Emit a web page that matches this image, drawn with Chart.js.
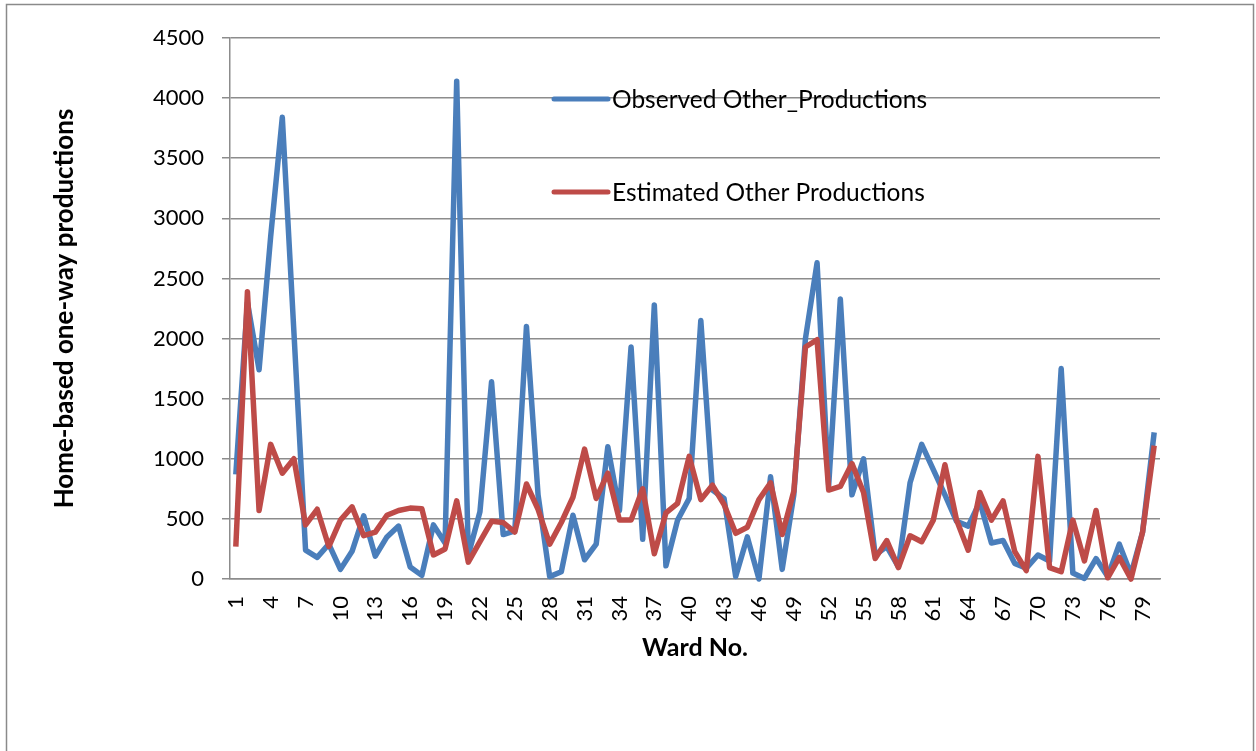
<!DOCTYPE html>
<html>
<head>
<meta charset="utf-8">
<script src="https://cdn.jsdelivr.net/npm/chart.js@4/dist/chart.umd.min.js"></script>
<style>
  html, body { margin: 0; padding: 0; background: #fff; }
  #wrap { width: 1256px; height: 751px; position: relative; }
</style>
</head>
<body>
<div id="wrap"><canvas id="chart" width="1256" height="751"></canvas></div>
<script>
// ward numbers 1..80
const wards = ['1','2','3','4','5','6','7','8','9','10','11','12','13','14','15','16','17','18','19','20',
  '21','22','23','24','25','26','27','28','29','30','31','32','33','34','35','36','37','38','39','40',
  '41','42','43','44','45','46','47','48','49','50','51','52','53','54','55','56','57','58','59','60',
  '61','62','63','64','65','66','67','68','69','70','71','72','73','74','75','76','77','78','79','80'];

const observed = [870, 2300, 1740, 2850, 3840, 2050, 240, 180, 290, 80,
  230, 525, 190, 350, 440, 100, 30, 450, 300, 4140,
  200, 560, 1640, 370, 400, 2100, 700, 20, 60, 530,
  160, 290, 1100, 570, 1930, 330, 2280, 110, 490, 670,
  2150, 740, 670, 20, 350, 0, 850, 80, 700, 2000,
  2630, 780, 2330, 700, 1000, 200, 270, 100, 800, 1120,
  910, 700, 480, 440, 640, 300, 320, 130, 90, 200,
  150, 1750, 50, 5, 170, 20, 290, 40, 390, 1220];

const estimated = [270, 2390, 570, 1120, 880, 1000, 450, 580, 270, 490,
  600, 360, 390, 530, 570, 590, 585, 200, 250, 650,
  140, 310, 480, 470, 390, 790, 580, 290, 470, 680,
  1080, 670, 880, 490, 490, 750, 210, 550, 630, 1020,
  660, 780, 620, 380, 430, 660, 800, 370, 730, 1930,
  1990, 740, 770, 960, 720, 170, 320, 95, 360, 310,
  490, 950, 490, 240, 720, 490, 650, 230, 70, 1020,
  95, 60, 490, 150, 570, 10, 180, 0, 390, 1110];

const yMax = 4500;
const yStep = 500;

const FONT = 'Lato, "Liberation Sans", sans-serif';
const GRID = '#8c8c8c';

// white background + outer frame
const framePlugin = {
  id: 'frame',
  beforeDraw(chart) {
    const ctx = chart.ctx;
    ctx.save();
    ctx.fillStyle = '#fff';
    ctx.fillRect(0, 0, chart.width, chart.height);
    ctx.strokeStyle = '#8a8a8a';
    ctx.lineWidth = 1.5;
    ctx.strokeRect(6.5, 4.5, 1247, 760);
    ctx.restore();
  }
};

// legend sits inside the plot like the excel one
const insideLegend = {
  id: 'insideLegend',
  afterDatasetsDraw(chart) {
    const ctx = chart.ctx;
    const area = chart.chartArea;
    const x0 = area.left + 324;
    const rows = [61, 154];
    ctx.save();
    chart.data.datasets.slice().sort((a, b) => a.legendRow - b.legendRow).forEach((ds, i) => {
      const y = area.top + rows[i];
      ctx.strokeStyle = ds.borderColor;
      ctx.lineWidth = 5;
      ctx.lineCap = 'round';
      ctx.beginPath();
      ctx.moveTo(x0, y);
      ctx.lineTo(x0 + 54, y);
      ctx.stroke();
      ctx.fillStyle = '#000';
      ctx.font = '24.5px ' + FONT;
      ctx.textBaseline = 'middle';
      ctx.fillText(ds.label, x0 + 58, y + 1);
    });
    ctx.restore();
  }
};

const ctx = document.getElementById('chart').getContext('2d');
new Chart(ctx, {
  type: 'line',
  data: {
    labels: wards,
    datasets: [{
      label: 'Estimated Other Productions',
      data: estimated,
      borderColor: '#be4b48',
      borderWidth: 5.5,
      pointRadius: 0,
      tension: 0,
      borderJoinStyle: 'round',
      clip: false,
      order: 0,
      legendRow: 1
    }, {
      label: 'Observed Other_Productions',
      data: observed,
      borderColor: '#4a7ebb',
      borderWidth: 5.5,
      pointRadius: 0,
      tension: 0,
      borderJoinStyle: 'round',
      clip: false,
      order: 1,
      legendRow: 0
    }]
  },
  options: {
    responsive: false,
    animation: false,
    layout: {
      padding: { left: 49, top: 38, right: 96, bottom: 88 }
    },
    scales: {
      x: {
        offset: true,
        grid: { display: false, drawTicks: false },
        border: { display: true, color: GRID, width: 1.5 },
        ticks: {
          color: '#000',
          font: { family: FONT, size: 22 },
          autoSkip: false,
          minRotation: 90,
          maxRotation: 90,
          padding: 17,
          callback: function(value, index) {
            return index % 3 === 0 ? this.getLabelForValue(value) : '';
          }
        },
        title: {
          display: true,
          text: 'Ward No.',
          color: '#000',
          font: { family: FONT, size: 25, weight: 'bold' },
          padding: 0
        },
        afterFit: s => { s.height = 84; }
      },
      y: {
        min: 0,
        max: yMax,
        grid: { color: GRID, lineWidth: 1.5, tickLength: 8 },
        border: { display: true, color: GRID, width: 1.5 },
        ticks: {
          stepSize: yStep,
          color: '#000',
          font: { family: FONT, size: 22 },
          padding: 18,
          callback: v => String(v)
        },
        title: {
          display: true,
          text: 'Home-based one-way productions',
          color: '#000',
          font: { family: FONT, size: 26, weight: 'bold' },
          padding: 0
        },
        afterFit: s => { s.width = 181; }
      }
    },
    plugins: {
      legend: { display: false },
      tooltip: { enabled: false }
    }
  },
  plugins: [framePlugin, insideLegend]
});
</script>
</body>
</html>
